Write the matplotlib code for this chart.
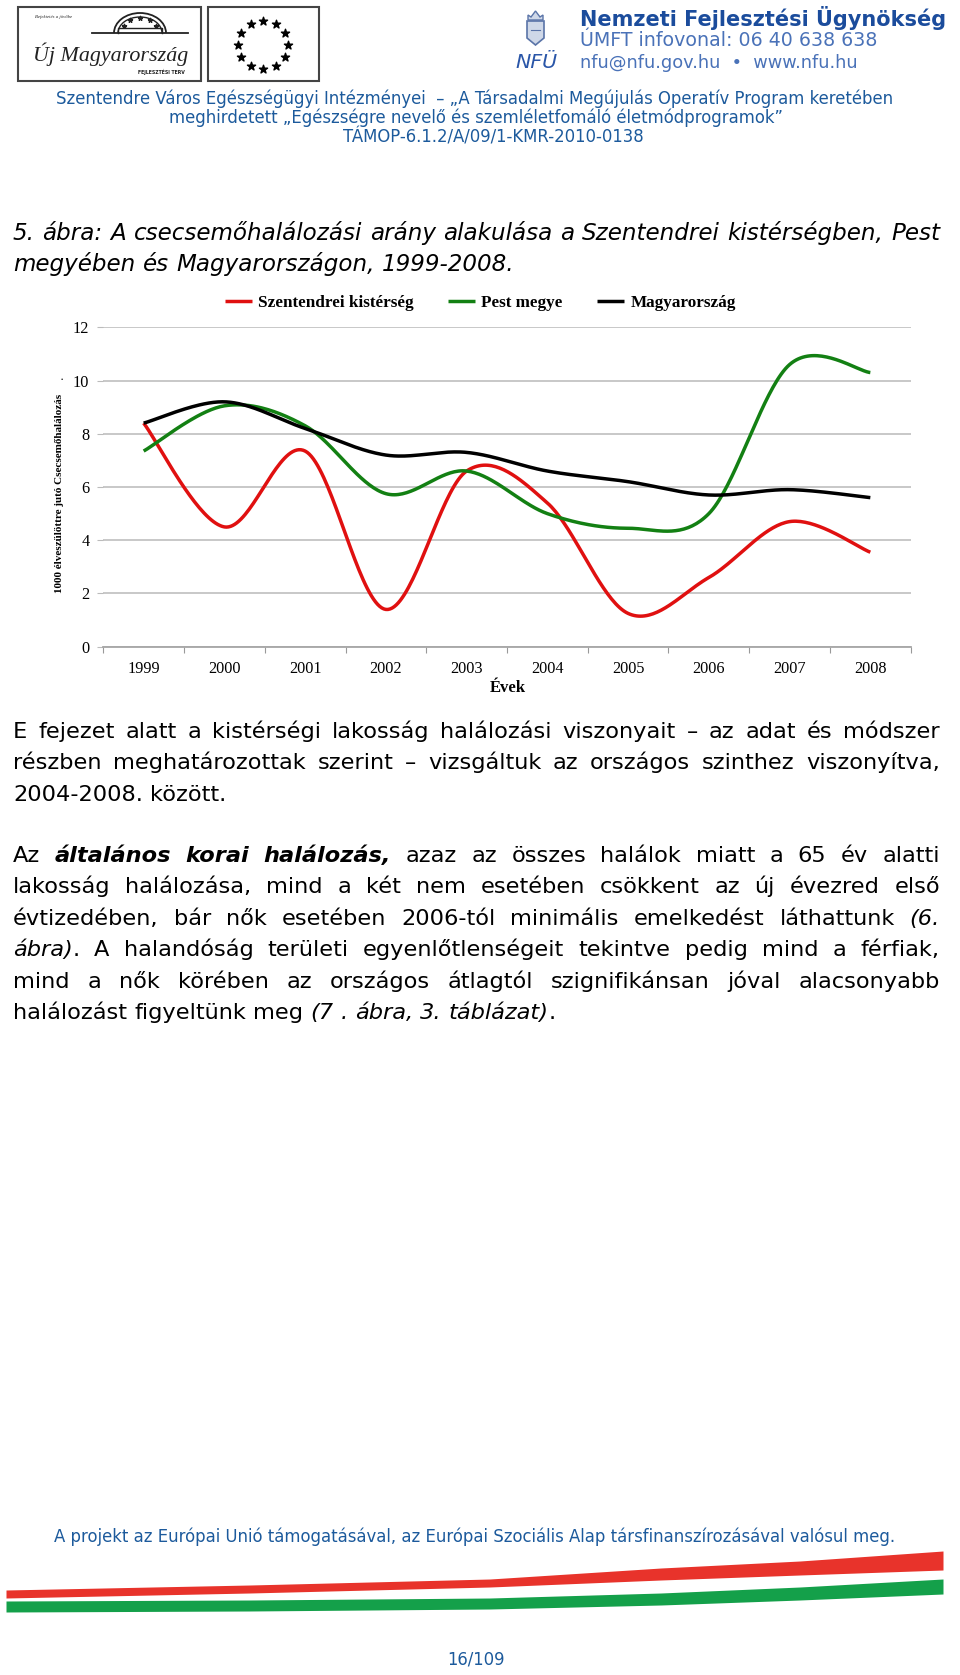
import matplotlib
matplotlib.use('Agg')
import matplotlib.pyplot as plt
import numpy as np
from matplotlib.patches import Rectangle, Polygon, Arc

# chart data
years = ['1999', '2000', '2001', '2002', '2003', '2004', '2005', '2006', '2007', '2008']
szentendre = [8.4, 4.5, 7.35, 1.4, 6.6, 5.4, 1.25, 2.6, 4.7, 3.55]
pest = [7.35, 9.05, 8.3, 5.75, 6.6, 5.0, 4.45, 5.0, 10.6, 10.3]
magyar = [8.4, 9.2, 8.2, 7.2, 7.3, 6.6, 6.2, 5.7, 5.9, 5.6]
series_names = ['Szentendrei kistérség', 'Pest megye', 'Magyarország']
series_colors = ['#e01010', '#138013', '#000000']
yticks = [0, 2, 4, 6, 8, 10, 12]

header_lines = ['Szentendre Város Egészségügyi Intézményei  – „A Társadalmi Megújulás Operatív Program keretében',
                'meghirdetett „Egészségre nevelő és szemléletfomáló életmódprogramok”',
                'TÁMOP-6.1.2/A/09/1-KMR-2010-0138']
caption = ['_5. ábra: A csecsemőhalálozási arány alakulása a Szentendrei kistérségben, Pest_',
           '_megyében és Magyarországon, 1999-2008._']
para1 = ['E fejezet alatt a kistérségi lakosság halálozási viszonyait – az adat és módszer',
         'részben meghatározottak szerint – vizsgáltuk az országos szinthez viszonyítva,',
         '2004-2008. között.']
para2 = ['Az #általános korai halálozás,# azaz az összes halálok miatt a 65 év alatti',
         'lakosság halálozása, mind a két nem esetében csökkent az új évezred első',
         'évtizedében, bár nők esetében 2006-tól minimális emelkedést láthattunk _(6._',
         '_ábra)_. A halandóság területi egyenlőtlenségeit tekintve pedig mind a férfiak,',
         'mind a nők körében az országos átlagtól szignifikánsan jóval alacsonyabb',
         'halálozást figyeltünk meg _(7 . ábra, 3. táblázat)_.']
footer = 'A projekt az Európai Unió támogatásával, az Európai Szociális Alap társfinanszírozásával valósul meg.'
page_no = '16/109'

plt.rcParams['font.family'] = 'Liberation Serif'

W, H = 960, 1675
fig = plt.figure(figsize=(W / 100, H / 100), dpi=100)
renderer = fig.canvas.get_renderer()

# page layer in pixel coordinates
bg = fig.add_axes([0, 0, 1, 1])
bg.set_xlim(0, W)
bg.set_ylim(H, 0)
bg.axis('off')

BLUE = '#1c5a9c'
STY = {'r': {}, 'i': {'style': 'italic'}, 'b': {'style': 'italic', 'weight': 'bold'}}


def fit_text(x, y, s, width, vertical=False, **kw):
    t = bg.text(x, y, s, fontsize=10, **kw)
    ext = t.get_window_extent(renderer)
    t.set_fontsize(10 * width / (ext.height if vertical else ext.width))
    return t


def parse(line):
    words = [[]]
    style = 'r'
    cur = ''
    for ch in line:
        if ch in '_#':
            if cur:
                words[-1].append((cur, style))
                cur = ''
            tog = 'i' if ch == '_' else 'b'
            style = 'r' if style == tog else tog
        elif ch == ' ':
            if cur:
                words[-1].append((cur, style))
                cur = ''
            if words[-1]:
                words.append([])
        else:
            cur += ch
    if cur:
        words[-1].append((cur, style))
    return [w for w in words if w]


def put_line(y, line, justify, x0=13, x1=940, size=16.2):
    words = parse(line)
    arts, widths = [], []
    for w in words:
        pieces, wsum = [], 0
        for txt, st in w:
            t = bg.text(0, y, txt, fontsize=size, va='baseline', ha='left',
                        family='DejaVu Sans', color='black', **STY[st])
            pw = t.get_window_extent(renderer).width
            pieces.append((t, pw))
            wsum += pw
        arts.append(pieces)
        widths.append(wsum)
    if justify and len(words) > 1:
        gap = (x1 - x0 - sum(widths)) / (len(words) - 1)
    else:
        gap = size * 100 / 72 * 0.318
    x = x0
    for pieces in arts:
        for t, pw in pieces:
            t.set_x(x)
            x += pw
        x += gap


# ---- header logos ----
bg.add_patch(Rectangle((18, 7), 183, 74, fill=False, ec='#444444', lw=1.5))
bg.add_patch(Rectangle((208, 7), 111, 74, fill=False, ec='#444444', lw=1.5))
fit_text(35, 17, 'Befektetés a jövőbe', 37, family='Liberation Serif', style='italic',
         va='center', color='#222222')
bg.add_patch(Arc((140, 33), 52, 40, theta1=180, theta2=360, color='#222222', lw=1.3))
bg.add_patch(Arc((140, 33), 44, 32, theta1=180, theta2=360, color='#222222', lw=1.0))
bg.plot([92, 188], [33, 33], color='#222222', lw=1.3)
bg.plot([118, 118, 162, 162], [33, 28, 28, 33], color='#222222', lw=1.0)
ang = np.linspace(200, 340, 5)
bg.scatter(140 + 17 * np.cos(np.radians(ang)), 30 + 12 * np.sin(np.radians(ang)),
           marker='*', s=10, color='#222222')
fit_text(33, 54, 'Új Magyarország', 155, family='Liberation Serif', style='italic',
         va='center', color='#222222')
fit_text(138, 72, 'FEJLESZTÉSI TERV', 47, family='DejaVu Sans', weight='bold',
         va='center', color='#222222')
ang = np.radians(np.arange(0, 360, 30))
bg.scatter(263 + 25 * np.cos(ang), 45 + 24 * np.sin(ang), marker='*', s=38, color='black')

# NFU crest and texts
bg.add_patch(Polygon([[527, 21], [544, 21], [544, 38], [535.5, 45], [527, 38]],
                     closed=True, fc='#cfd8e8', ec='#5a74a8', lw=1.2))
bg.add_patch(Polygon([[528, 20], [528, 15], [531, 17], [535.5, 11], [540, 17], [543, 15], [543, 20]],
                     closed=True, fc='#cfd8e8', ec='#5a74a8', lw=1.0))
bg.plot([531, 540], [30, 30], color='#5a74a8', lw=0.8)
fit_text(515, 63, 'NFÜ', 42, family='DejaVu Sans', style='italic', va='center', color='#2a56a8')
fit_text(580, 18, 'Nemzeti Fejlesztési Ügynökség', 366, family='DejaVu Sans', weight='bold',
         va='center', color='#1b4c9c')
fit_text(580, 40, 'ÚMFT infovonal: 06 40 638 638', 298, family=['DejaVu Sans'],
         va='center', color='#4a72b8')
fit_text(580, 63, 'nfu@nfu.gov.hu  •  www.nfu.hu', 277, family=['DejaVu Sans'],
         va='center', color='#4a72b8')

# header lines
t0 = fit_text(475, 99, header_lines[0], 840, family='DejaVu Sans', ha='center', va='center', color=BLUE)
hsize = t0.get_fontsize()
bg.text(476, 117.5, header_lines[1], fontsize=hsize, family='DejaVu Sans', ha='center', va='center', color=BLUE)
bg.text(493, 137, header_lines[2], fontsize=hsize, family='DejaVu Sans', ha='center', va='center', color=BLUE)

# caption and paragraphs
put_line(240, caption[0], True, size=16.6)
put_line(271, caption[1], False, size=16.6)
for i, ln in enumerate(para1):
    put_line(738 + 31.4 * i, ln, i < len(para1) - 1)
for i, ln in enumerate(para2):
    put_line(862 + 31.4 * i, ln, i < len(para2) - 1)

# footer
bg.text(475, 1537, footer, fontsize=hsize, family='DejaVu Sans', ha='center', va='center', color=BLUE)
bg.text(476, 1660, page_no, fontsize=hsize, family='DejaVu Sans', ha='center', va='center', color=BLUE)

# tricolour ribbon
sx = np.array([6, 250, 490, 661, 800, 943])
red_top = np.array([1590, 1585, 1579, 1568, 1561, 1551])
red_bot = np.array([1598, 1593, 1587, 1580, 1575, 1570])
grn_top = np.array([1601, 1600, 1598, 1593, 1587, 1579])
grn_bot = np.array([1612, 1611, 1609, 1605, 1600, 1594])
bg.fill_between(sx, red_top, red_bot, color='#e8332b', lw=0)
bg.fill_between(sx, grn_top, grn_bot, color='#14a04a', lw=0)


# ---- chart ----
def smooth(y, n=40):
    y = np.asarray(y, float)
    P = np.column_stack([np.arange(len(y), dtype=float), y])
    Pp = np.vstack([P[0], P, P[-1]])
    t = np.linspace(0, 1, n)[:, None]
    out = []
    for i in range(len(y) - 1):
        p0, p1, p2, p3 = Pp[i], Pp[i + 1], Pp[i + 2], Pp[i + 3]
        c1 = p1 + (p2 - p0) / 6
        c2 = p2 - (p3 - p1) / 6
        seg = (1 - t) ** 3 * p1 + 3 * (1 - t) ** 2 * t * c1 + 3 * (1 - t) * t ** 2 * c2 + t ** 3 * p2
        out.append(seg if i == 0 else seg[1:])
    out = np.vstack(out)
    return out[:, 0], out[:, 1]


ax = fig.add_axes([103.3 / W, 1 - 646.7 / H, 807.4 / W, 319.4 / H])
ax.patch.set_alpha(0)
for vals, name, col in zip([szentendre, pest, magyar], series_names, series_colors):
    xs, ys = smooth(vals)
    ax.plot(xs, ys, color=col, lw=2.5, label=name, solid_capstyle='butt')

ax.set_xlim(-0.5, len(years) - 0.5)
ax.set_ylim(0, 12)
ax.set_yticks(yticks)
ax.set_xticks(np.arange(-0.5, len(years), 1))
ax.set_xticklabels([])
ax.set_xticks(np.arange(len(years)), years, minor=True)
ax.tick_params(axis='x', which='major', length=4, color='#999999', direction='out')
ax.tick_params(axis='x', which='minor', length=0, pad=10, labelsize=11.7)
ax.tick_params(axis='y', length=4, color='#bbbbbb', pad=6, labelsize=11.7)
ax.yaxis.grid(True, color='#c4c4c4', lw=1.3)
ax.set_axisbelow(True)
for s in ['left', 'right', 'top']:
    ax.spines[s].set_visible(False)
ax.spines['bottom'].set_color('#a6a6a6')
ax.spines['bottom'].set_linewidth(1.3)

ax.legend(loc='center', bbox_to_anchor=(0.467, 1.076), ncol=3, frameon=False,
          prop={'family': 'Liberation Serif', 'weight': 'bold', 'size': 12.3},
          handlelength=1.6, handletextpad=0.35, columnspacing=2.0)

fit_text(59.3, 493, '1000 élveszülöttre jutó Csecsemőhalálozás', 200, vertical=True,
         family='Liberation Serif', weight='bold', rotation=90, ha='center', va='center')
bg.text(62, 380, '·', fontsize=9, ha='center', va='center')
bg.text(508, 688, 'Évek', fontsize=12, weight='bold', ha='center', va='center')

fig.savefig('out.png', dpi=100)
